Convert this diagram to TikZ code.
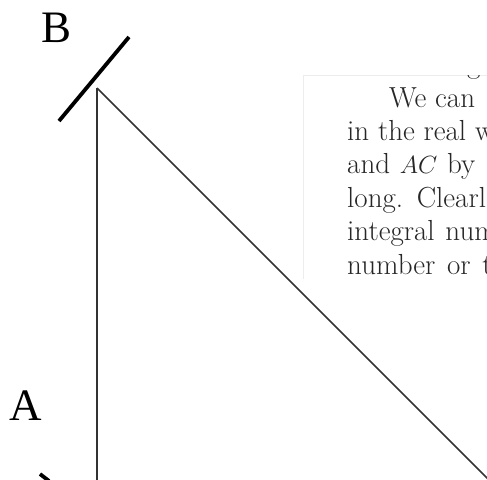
\documentclass[tikz,border=0pt]{standalone}
\usepackage{fontspec}
\newfontfamily\lblfont{Liberation Serif}
\begin{document}
\begin{tikzpicture}[x=1pt,y=-1pt,
  leg/.style={draw=black!80,line width=1.5pt},
  mirror/.style={draw=black,line width=3.8pt},
  ptlabel/.style={font=\lblfont\fontsize{45}{45}\selectfont,inner sep=0pt},
  bodytext/.style={font=\fontsize{29}{33}\selectfont,anchor=base west,inner sep=0pt,text=black!85}]
\useasboundingbox (0,0) rectangle (487,479);
% frame of the figure
\coordinate (B) at (97,88);
\coordinate (Abot) at (97,480);
\coordinate (Cend) at (492,483);
\coordinate (m1) at (59,121);
\coordinate (m2) at (129,37);
\coordinate (s1) at (40,474);
\coordinate (s2) at (49,481);
\begin{scope}
\clip (0,0) rectangle (487,479);
\draw[leg] (B) -- (Abot);
\draw[leg] (B) -- (Cend);
\draw[mirror] (s1) -- (s2);
\end{scope}
\draw[mirror] (m1) -- (m2);
\node[ptlabel] (lB) at (56.5,28) {B};
\node[ptlabel] (lA) at (25.5,405.5) {A};
% faint edge of the text inset
\draw[black!7,line width=0.8pt] (303,279) -- (303,75) -- (487,75);
% text inset
\begin{scope}
\clip (303,75.5) rectangle (487,281);
\node[bodytext] (t0) at (467,73.6) {g};
\node[bodytext] (t1) at (389,107) {We can};
\node[bodytext] (t2) at (347,140.4) {in the real w};
\node[bodytext] (t3) at (347,173.8) {and\hspace{1pt} $AC$\hspace{1pt} by};
\node[bodytext] (t4) at (347,207.2) {long.\hspace{2pt} Clearl};
\node[bodytext] (t5) at (347,240.6) {integral\hspace{2pt} num};
\node[bodytext] (t6) at (347,274) {number\hspace{3pt} or\hspace{3pt} t};
\end{scope}
\end{tikzpicture}
\end{document}
